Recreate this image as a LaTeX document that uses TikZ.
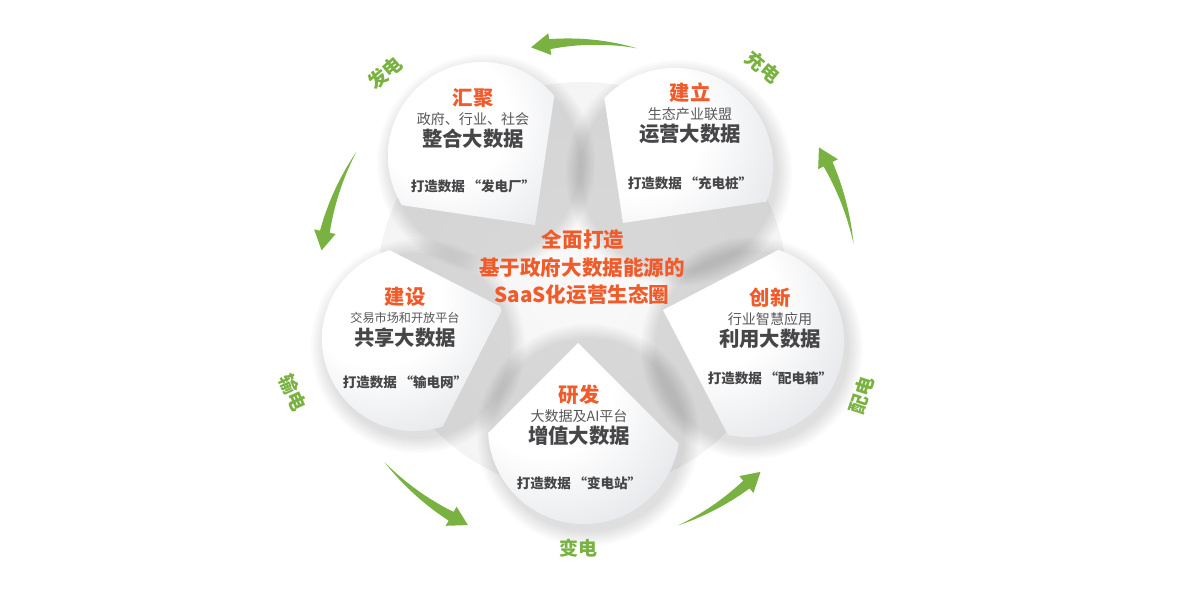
\documentclass[tikz,border=0pt]{standalone}
\usepackage{fontspec}
\setmainfont{Noto Sans CJK SC}
\usepackage{xcolor}
\usepackage{tikz}
\usetikzlibrary{calc}

\definecolor{hlorange}{RGB}{241,90,41}
\definecolor{leafgreen}{RGB}{122,178,66}
\definecolor{inkgrey}{RGB}{70,70,72}
\definecolor{subgrey}{RGB}{88,88,90}
\definecolor{petalgrey}{RGB}{204,208,214}

\pgfdeclareradialshading{petalshade}{\pgfpoint{-14bp}{14bp}}{color(0bp)=(white);color(18bp)=(white);color(48bp)=(petalgrey!80);color(75bp)=(petalgrey)}
\pgfdeclareradialshading{discshade}{\pgfpoint{0bp}{0bp}}{color(0bp)=(gray!5);color(30bp)=(gray!9);color(44bp)=(gray!17);color(50bp)=(white)}

\def\petallist{482/444/94/535/375/126.5, 675/434/98/623/377/53.5, 414/261/92/503/292/198, 748/259/96/663/290/-17.5, 584/172/96/578/257/-90}

\newcommand\petaltext[8]{%
  \node[title] (#1-t) at (#2,#3) {#4};
  \node[subline] (#1-s) at (#2,#3-21) {#5};
  \node[mainline] (#1-m) at (#2,#3-41) {#6};
  \node[tagline] (#1-g) at (#2,#3-#8) {#7};}

\newcommand\leafarrow[3]{%
  \pgfmathsetmacro\hb{#3-19/#1*57.3}
  \fill[leafgreen, shift={(O)}] plot[domain=#2:\hb, samples=30] (\x:{#1+5*(\x-#2)/(\hb-#2)}) -- (\hb:#1+11) -- (#3:#1) -- (\hb:#1-11) -- plot[domain=\hb:#2, samples=30] (\x:{#1-5*(\x-#2)/(\hb-#2)}) -- cycle;}

\begin{document}
\begin{tikzpicture}[x=0.02cm, y=0.02cm,
  title/.style={text=hlorange, font=\fontsize{11.6}{12}\selectfont\bfseries, inner sep=0},
  subline/.style={text=subgrey, font=\fontsize{8}{9}\selectfont, inner sep=0},
  mainline/.style={text=inkgrey, font=\fontsize{11.6}{12}\selectfont\bfseries, inner sep=0},
  tagline/.style={text=inkgrey, font=\fontsize{7.7}{8}\selectfont\bfseries, inner sep=0},
  hub/.style={text=hlorange, font=\fontsize{11.7}{12}\selectfont\bfseries, inner sep=0},
  stage/.style={text=leafgreen, font=\fontsize{10.8}{11}\selectfont\bfseries, inner sep=0}]
\useasboundingbox (0,0) rectangle (1199,600);
\coordinate (O) at (582,313);

\shade[shading=discshade] (O) circle (205);

\foreach \cx/\cy/\r/\ax/\ay/\dir in \petallist
  \foreach \k in {1,...,8}
    \fill[black, opacity=0.014] (\cx+4,\cy-7) circle ({\r+17-2*\k});

\foreach \cx/\cy/\r/\ax/\ay/\dir in \petallist{
  \begin{scope}
    \clip[shift={(\ax,\ay)}] (0,0) -- (\dir+45:400) -- (\dir-45:400) -- cycle;
    \shade[shading=petalshade] (\cx,\cy) circle (\r);
  \end{scope}}

\petaltext{huiju}{473}{502}{汇聚}{政府、行业、社会}{整合大数据}{打造数据\hspace{0.2em}“发电厂”}{88}
\petaltext{jianli}{690}{507}{建立}{生态产业联盟}{运营大数据}{打造数据\hspace{0.2em}“充电桩”}{90}
\petaltext{jianshe}{405}{303}{建设}{\fontsize{6.9}{8}\selectfont 交易市场和开放平台}{共享大数据}{打造数据\hspace{0.2em}“输电网”}{85}
\petaltext{chuangxin}{770}{302}{创新}{行业智慧应用}{利用大数据}{打造数据\hspace{0.2em}“配电箱”}{80}
\petaltext{yanfa}{579}{205}{研发}{大数据及AI平台}{增值大数据}{打造数据\hspace{0.2em}“变电站”}{88}

\node[hub] (h1) at (583,360) {全面打造};
\node[hub] (h2) at (582,332) {基于政府大数据能源的};
\node[hub] (h3) at (582,305) {SaaS化运营生态圈};

\leafarrow{245}{77}{102}
\leafarrow{263}{149}{172}
\leafarrow{264}{221.6}{244.4}
\leafarrow{257}{292}{314}
\leafarrow{275}{9}{30.5}

\node[stage, rotate=40] (fadian) at (385,527) {发电};
\node[stage, rotate=-40] (chongdian) at (763,533) {充电};
\node[stage, rotate=-66] (shudian) at (293,207) {输电};
\node[stage, rotate=72] (peidian) at (862,205) {配电};
\node[stage] (biandian) at (578,52) {变电};
\end{tikzpicture}
\end{document}
